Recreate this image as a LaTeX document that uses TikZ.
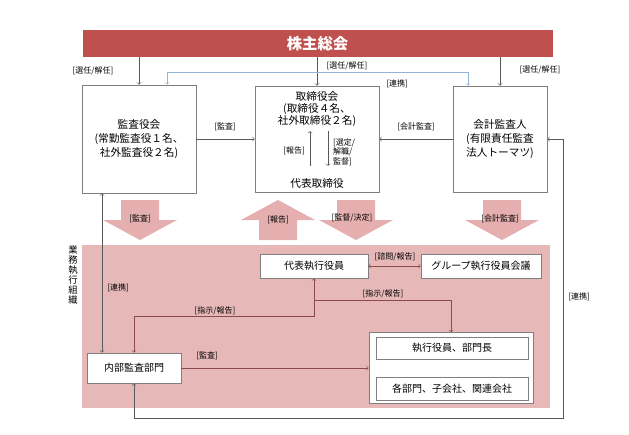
\documentclass[tikz,border=0pt]{standalone}
\usepackage{fontspec}
\setmainfont{Noto Sans CJK JP}
\usepackage{tikz}

\definecolor{soured}{HTML}{C0504D}
\definecolor{orgpink}{HTML}{E6B9B8}
\definecolor{arrowpink}{HTML}{E4AFAE}
\definecolor{boxgray}{HTML}{7F7F7F}
\definecolor{linegray}{HTML}{595959}
\definecolor{linkblue}{HTML}{95B3D7}
\definecolor{maroon}{HTML}{8C4A4A}

\begin{document}
\begin{tikzpicture}[
		x = 0.75pt, y = -0.75pt,
		box/.style = {draw = boxgray, fill = white, thin, align = center, inner sep = 2pt,
			font = \fontsize{8}{10.5}\selectfont},
		smallbox/.style = {box, font = \fontsize{7.5}{9}\selectfont},
		lbl/.style = {font = \fontsize{6}{7}\selectfont, inner sep = 1pt, align = center},
		line/.style = {draw = linegray, thin, ->},
		inner/.style = {draw = maroon, thin, ->},
		bluelink/.style = {draw = linkblue, thin, <->},
		blockarrow/.style = {fill = arrowpink}
		]
		\useasboundingbox (0,0) rectangle (629,435);
		
		% General meeting
		\node [fill = soured, minimum width = 352.5pt, minimum height = 20.25pt, text = white,
			font = \fontsize{11.5}{12}\selectfont\bfseries] (kabu) at (317.5,43.5) {株主総会};
		
		% Boards
		\node [box, minimum width = 85.5pt, minimum height = 81pt] (kansa) at (139,139)
			{監査役会\\(常勤監査役１名、\\社外監査役２名)};
		\node [box, minimum width = 93pt, minimum height = 79.5pt] (torishimari) at (317,139) {};
		\node [lbl, font = \fontsize{8}{9}\selectfont] (toritext) at (317,109)
			{取締役会\\(取締役４名、\\社外取締役２名)};
		\node [lbl, font = \fontsize{8}{9}\selectfont] (daitori) at (317,183) {代表取締役};
		\node [box, minimum width = 70.5pt, minimum height = 79.5pt] (kaikei) at (500,139)
			{会計監査人\\(有限責任監査\\法人トーマツ)};
		
		% Executive organisation
		\fill [orgpink] (82,245) rectangle (550,408);
		\node [lbl, font = \fontsize{7}{7.6}\selectfont] (gyomulbl) at (73,275)
			{業\\務\\執\\行\\組\\織};
		\node [smallbox, minimum width = 81pt, minimum height = 18pt] (daihyo) at (314,266) {代表執行役員};
		\node [smallbox, minimum width = 90pt, minimum height = 18pt] (group) at (481,266) {グループ執行役員会議};
		\node [smallbox, minimum width = 70.5pt, minimum height = 22.5pt] (naibu) at (134,368) {内部監査部門};
		\node [box, minimum width = 123pt, minimum height = 53.25pt] (gyomu) at (451,368) {};
		\node [smallbox, minimum width = 114pt, minimum height = 16.5pt] (shikko) at (452,348) {執行役員、部門長};
		\node [smallbox, minimum width = 114pt, minimum height = 17.25pt] (kakubu) at (452,388.5) {各部門、子会社、関連会社};
		
		% Block arrows
		\foreach \cx in {140, 356, 502}
			\fill [blockarrow] (\cx-19,200) -- (\cx+19,200) -- (\cx+19,220) -- (\cx+37,220)
				-- (\cx,240) -- (\cx-37,220) -- (\cx-19,220) -- cycle;
		\fill [blockarrow] (259,240) -- (297,240) -- (297,220) -- (315,220)
			-- (278,200) -- (241,220) -- (259,220) -- cycle;
		
		% Connectors
		\draw [line] (kansa.north |- kabu.south) -- (kansa.north);
		\draw [line] (torishimari.north |- kabu.south) -- (torishimari.north);
		\draw [line] (kaikei.north |- kabu.south) -- (kaikei.north);
		\draw [bluelink] (167,0 |- kansa.north) -- (167,72) -- (468,72) -- (468,0 |- kaikei.north);
		\draw [line] (kansa) -- (torishimari);
		\draw [line] (kaikei) -- (torishimari);
		\coordinate (upbot) at (310,166);
		\coordinate (uptop) at (310,131);
		\coordinate (dntop) at (328,131);
		\coordinate (dnbot) at (328,166);
		\draw [line] (upbot) -- (uptop);
		\draw [line] (dntop) -- (dnbot);
		\draw [line, <->] (102,0 |- kansa.south) -- (102,0 |- naibu.north);
		\draw [line, <->] (kaikei.east) -- (563,0 |- kaikei.east) -- (563,418)
			-- (naibu.south |- 0,418) -- (naibu.south);
		\draw [inner, <->] (daihyo) -- (group);
		\draw [inner, <->] (daihyo.south) -- (daihyo.south |- 0,316)
			-- (naibu.north |- 0,316) -- (naibu.north);
		\draw [inner] (daihyo.south |- 0,300) -- (gyomu.north |- 0,300) -- (gyomu.north);
		\draw [inner] (naibu) -- (gyomu);
		
		% Labels
		\begin{scope}[nodes = {lbl}]
			\node at (93,71) {[選任/解任]};
			\node at (347,66) {[選任/解任]};
			\node at (540,70) {[選任/解任]};
			\node at (397,84) {[連携]};
			\node at (225,127) {[監査]};
			\node at (416,127) {[会計監査]};
			\node at (294,151) {[報告]};
			\node [align = left] at (344,152) {[選定/\\解職/\\監督]};
			\node at (140,219) {[監査]};
			\node at (278,220) {[報告]};
			\node at (352,218) {[監督/決定]};
			\node at (500,219) {[会計監査]};
			\node at (395,257) {[諮問/報告]};
			\node at (118,288) {[連携]};
			\node at (215,311) {[指示/報告]};
			\node at (383,294) {[指示/報告]};
			\node at (207,356) {[監査]};
			\node at (579,297) {[連携]};
		\end{scope}
	\end{tikzpicture}
\end{document}
